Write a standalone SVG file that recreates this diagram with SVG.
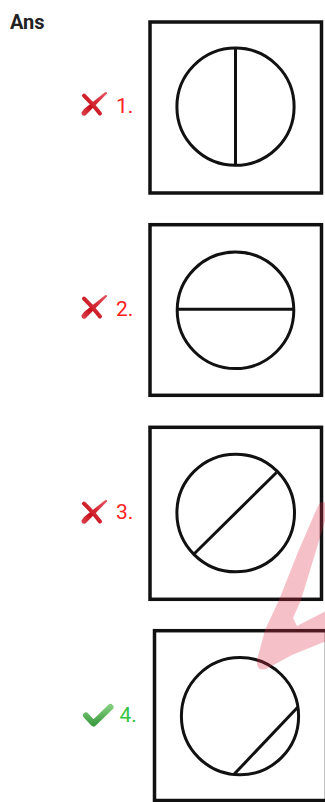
<svg xmlns="http://www.w3.org/2000/svg" width="325" height="802" viewBox="0 0 325 802">
  <style>
    .box { fill: none; stroke: #111; stroke-width: 3.5; }
    .fig { fill: none; stroke: #111; stroke-width: 3; }
    .ans { font-family: Roboto, "Liberation Sans", sans-serif; font-weight: bold; font-size: 20px; fill: #222; }
    .num { font-family: Roboto, "Liberation Sans", sans-serif; font-size: 21px; }
    .wrong { fill: #ff2020; }
    .right { fill: #33c243; }
  </style>
  <defs>
    <linearGradient id="xg" x1="0" y1="1" x2="1" y2="0">
      <stop offset="0" stop-color="#e04a58"/>
      <stop offset="0.35" stop-color="#c8101c"/>
      <stop offset="1" stop-color="#e85b68"/>
    </linearGradient>
    <linearGradient id="cg" x1="0" y1="0" x2="0" y2="1">
      <stop offset="0" stop-color="#7fcc7a"/>
      <stop offset="1" stop-color="#3f9e43"/>
    </linearGradient>
    <g id="xmark">
      <path d="M -12.5 8.5 Q -12.5 12.8 -8.5 11.5 L 13 -10.5 Q 13.5 -12.8 11 -11.8 L -10 5 Z" fill="url(#xg)"/>
      <path d="M -10 -8.5 Q -2 -1 6 9.5" fill="none" stroke="url(#xg)" stroke-width="4" stroke-linecap="round"/>
    </g>
  </defs>

  <text class="ans" x="10" y="29">Ans</text>

  <g id="option1">
    <use href="#xmark" x="94" y="104"/>
    <text class="num wrong" x="116" y="112.5">1.</text>
    <rect class="box" x="150" y="22" width="171.5" height="171"/>
    <circle class="fig" cx="235.5" cy="106.7" r="58.6"/>
    <line class="fig" x1="235.5" y1="48" x2="235.5" y2="165.3"/>
  </g>

  <g id="option2">
    <use href="#xmark" x="94" y="307"/>
    <text class="num wrong" x="116" y="316">2.</text>
    <rect class="box" x="150" y="224.7" width="171.5" height="170.6"/>
    <circle class="fig" cx="235.5" cy="310.3" r="58.3"/>
    <line class="fig" x1="177.2" y1="309.3" x2="293.8" y2="309.3"/>
  </g>

  <g id="option3">
    <use href="#xmark" x="94" y="512"/>
    <text class="num wrong" x="116" y="518.5">3.</text>
    <rect class="box" x="150" y="427.3" width="171.5" height="172"/>
    <circle class="fig" cx="235.7" cy="513" r="58.8"/>
    <line class="fig" x1="194.5" y1="553.5" x2="276.5" y2="472.5"/>
  </g>

  <g id="option4">
    <polyline points="86,715.5 93.5,723.5 110.5,707" fill="none" stroke="url(#cg)" stroke-width="6" stroke-linecap="round" stroke-linejoin="round"/>
    <text class="num right" x="119.5" y="721.5">4.</text>
    <rect class="box" x="154.5" y="630.7" width="172" height="169.8"/>
    <circle class="fig" cx="240" cy="716.2" r="58.6"/>
    <line class="fig" x1="234.3" y1="774" x2="297.7" y2="707.3"/>
  </g>

  <path id="pen-stroke" d="M 318 506 L 298 552 L 279 600 L 265 630 L 257 660 Q 256 672 266 669 L 292 655 L 326 641 L 326 611 L 297 626 L 293 618 L 301 600 L 326 518 L 326 503 Q 321 500 318 506 Z" fill="#e0304a" opacity="0.3"/>
</svg>
